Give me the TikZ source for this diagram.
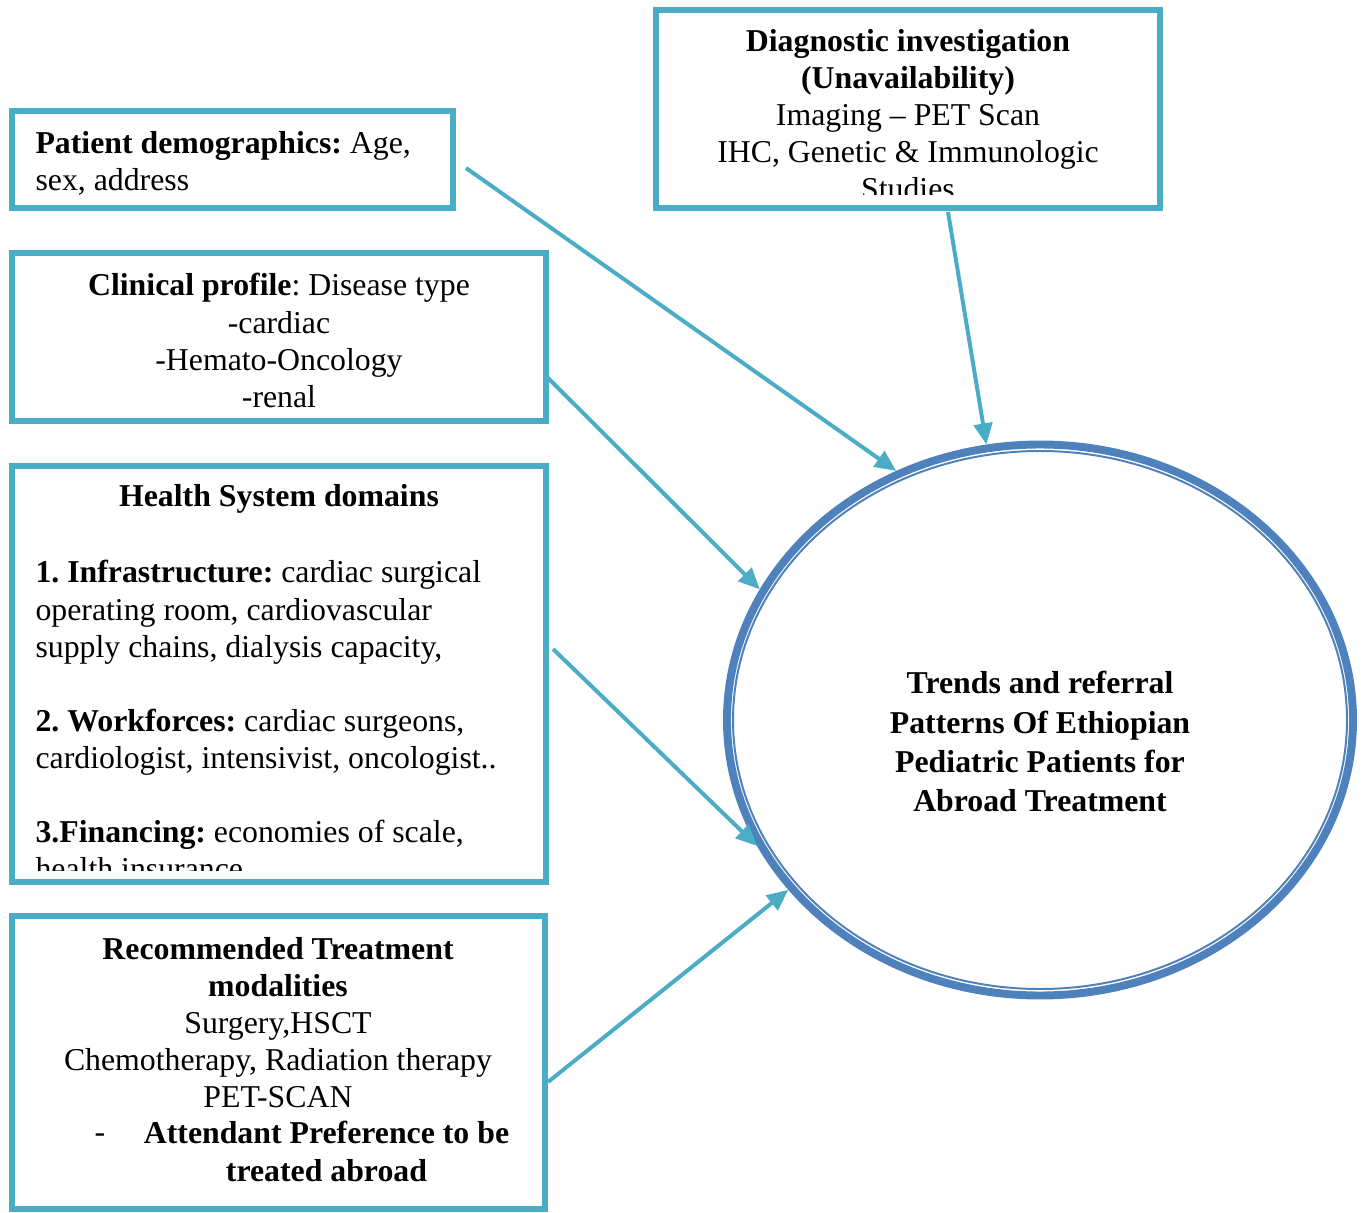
\documentclass[tikz,border=0pt]{standalone}
\usepackage{fontspec}
\setmainfont{Liberation Serif}
\usepackage{xcolor}
\usepackage{tikz}
\usetikzlibrary{arrows.meta,shapes.geometric}

\definecolor{cajaazul}{HTML}{4BACC6}
\definecolor{elipseazul}{HTML}{4F81BD}
\frenchspacing

\begin{document}
\begin{tikzpicture}[x=0.3774pt,y=-0.3774pt,
		caja/.style={draw=cajaazul,line width=2.26pt,inner sep=0pt},
		texto/.style={inner sep=0pt,font=\fontsize{12}{14}\selectfont},
		flecha/.style={draw=cajaazul,line width=1.5pt,-{Triangle[length=8pt,width=7pt]}}]
		
		% Ventana
		\def\px{0.3774pt}
		\useasboundingbox (0,0) rectangle (1361,1213);
		
		% Cajas
		\node[caja,minimum width=504*\px,minimum height=198*\px] (diag) at (908,109) {};
		\node[caja,minimum width=441*\px,minimum height=97*\px] (pat) at (232.5,159.5) {};
		\node[caja,minimum width=534*\px,minimum height=168*\px] (clin) at (279,337) {};
		\node[caja,minimum width=534*\px,minimum height=416*\px] (hsd) at (279,674) {};
		\node[caja,minimum width=533*\px,minimum height=293*\px] (rec) at (278.5,1062.5) {};
		
		% Elipse central (linea doble)
		\node[ellipse,draw=elipseazul,line width=3pt,inner sep=0pt,
		minimum width=626*\px,minimum height=551*\px] (meta) at (1040,720) {};
		\draw[elipseazul,line width=0.75pt] (meta.center) ellipse [x radius=307,y radius=269];
		
		% Textos
		\begin{scope}
			\clip (659,13) rectangle (1157,195);
			\node[texto,align=center,anchor=north] (diagtxt) at (908,29)
			{\textbf{Diagnostic investigation}\\\textbf{(Unavailability)}\\Imaging -- PET Scan\\IHC, Genetic \& Immunologic\\Studies};
		\end{scope}
		\node[texto,align=left,anchor=north west] (pattxt) at (35,131)
		{\textbf{Patient demographics:} Age,\\sex, address};
		\node[texto,align=center,anchor=north] (clintxt) at (279,273)
		{\textbf{Clinical profile}: Disease type\\-cardiac\\-Hemato-Oncology\\-renal};
		\node[texto,anchor=base] (hsdtit) at (279,507) {\textbf{Health System domains}};
		\begin{scope}
			\clip (15,469) rectangle (543,870);
			\node[texto,align=left,anchor=north west] (hsdtxt) at (35,560)
			{\textbf{1. Infrastructure:} cardiac surgical\\operating room, cardiovascular\\supply chains, dialysis capacity,\\[14pt]
				\textbf{2. Workforces:} cardiac surgeons,\\cardiologist, intensivist, oncologist..\\[14pt]
				\textbf{3.Financing:} economies of scale,\\health insurance};
		\end{scope}
		\node[texto,align=center,anchor=north] (rectxt) at (278,937)
		{\textbf{Recommended Treatment}\\\textbf{modalities}\\Surgery,HSCT\\Chemotherapy, Radiation therapy\\PET-SCAN};
		\node[texto,anchor=base] (recguion) at (100,1142) {-};
		\node[texto,align=center,anchor=north,font=\fontsize{12}{14}\selectfont\bfseries] (recpref) at (326.5,1121)
		{Attendant Preference to be\\treated abroad};
		\node[texto,align=center,anchor=north,font=\fontsize{12}{14.8}\selectfont\bfseries] (metatxt) at (1040,671)
		{Trends and referral\\Patterns Of Ethiopian\\Pediatric Patients for\\Abroad Treatment};
		
		% Flechas
		\draw[flecha] ([shift={(10,8.5)}]pat.east) -- (meta.120);
		\draw[flecha] ([shift={(40,1)}]diag.south) -- (meta.101);
		\draw[flecha] ([shift={(-4,38)}]clin.east) -- (meta.155);
		\draw[flecha] ([shift={(4,-25)}]hsd.east) -- (meta.204);
		\draw[flecha] ([shift={(0,19.5)}]rec.east) -- (meta.214.5);
		
	\end{tikzpicture}
\end{document}
